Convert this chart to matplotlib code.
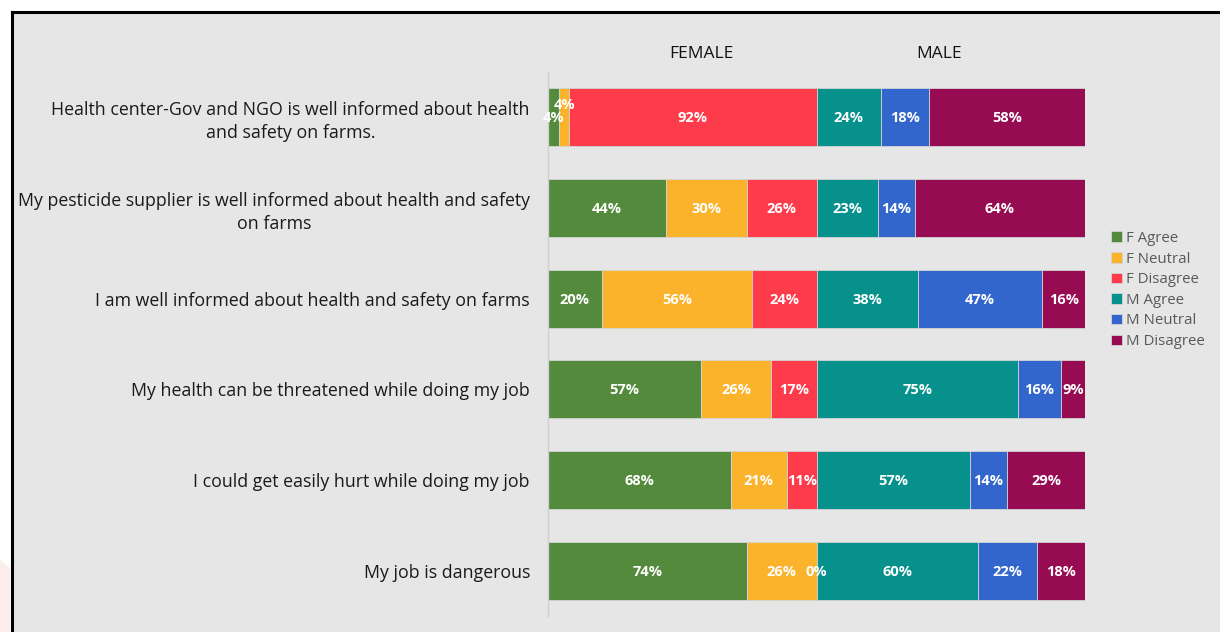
import matplotlib
matplotlib.use("Agg")
import matplotlib.pyplot as plt
from matplotlib.patches import Rectangle, Polygon
from matplotlib.lines import Line2D
import numpy as np

plt.rcParams['font.family'] = ['Open Sans', 'DejaVu Sans']

categories = [
    "Health center-Gov and NGO is well informed about health\nand safety on farms.",
    "My pesticide supplier is well informed about health and safety\non farms",
    "I am well informed about health and safety on farms",
    "My health can be threatened while doing my job",
    "I could get easily hurt while doing my job",
    "My job is dangerous",
]
f_agree = [4, 44, 20, 57, 68, 74]
f_neutral = [4, 30, 56, 26, 21, 26]
f_disagree = [92, 26, 24, 17, 11, 0]
m_agree = [24, 23, 38, 75, 57, 60]
m_neutral = [18, 14, 47, 16, 14, 22]
m_disagree = [58, 64, 16, 9, 29, 18]

series_names = ["F Agree", "F Neutral", "F Disagree", "M Agree", "M Neutral", "M Disagree"]
colors = ["#548A3C", "#FAB32B", "#FE3B4B", "#06918C", "#3366CC", "#960B51"]

W, H = 1220, 632
fig = plt.figure(figsize=(W / 100, H / 100), dpi=100, facecolor="white")

# background panel
fig.patches.append(Polygon([(0, 1 - 560 / H), (10 / W, 1 - 568 / H), (10 / W, 0), (0, 0)],
                           closed=True, transform=fig.transFigure, facecolor="#FDEEEE",
                           edgecolor="none", zorder=-5))
fig.patches.append(Rectangle((12 / W, 0), 1 - 12 / W, 1 - 12 / H, transform=fig.transFigure,
                             facecolor="#E6E6E6", edgecolor="none", zorder=-5))
fig.lines.append(Line2D([12 / W, 1], [1 - 12 / H, 1 - 12 / H], transform=fig.transFigure,
                        color="black", lw=2.2, zorder=-4))
fig.lines.append(Line2D([12 / W, 12 / W], [0, 1 - 12 / H], transform=fig.transFigure,
                        color="black", lw=2.2, zorder=-4))

ax = fig.add_axes([548 / W, 1 - 616 / H, (1085 - 548) / W, (616 - 72) / H])
ax.set_facecolor("none")

y = np.arange(len(categories))
bar_h = 0.64

groups = [
    (0, [f_agree, f_neutral, f_disagree], colors[:3], series_names[:3]),
    (100, [m_agree, m_neutral, m_disagree], colors[3:], series_names[3:]),
]
for base, series, cols, names in groups:
    arr = np.array(series, dtype=float)
    totals = arr.sum(axis=0)
    left = np.full(len(categories), float(base))
    for k, (vals, col, name) in enumerate(zip(arr, cols, names)):
        widths = vals / totals * 100
        ax.barh(y, widths, left=left, height=bar_h, color=col, edgecolor="#D4D4D4",
                linewidth=0.6, label=name)
        for i in range(len(categories)):
            cx = left[i] + widths[i] / 2
            dy = 0.01
            # overlapping small labels in first row: lift the second one
            if k == 1 and widths[i] < 6 and arr[0][i] < 6:
                dy = -0.14
            ax.text(cx, y[i] + dy, f"{int(vals[i])}%", ha="center", va="center",
                    color="white", fontsize=10.5, fontweight="bold")
        left = left + widths

ax.set_xlim(0, 200)
ax.set_ylim(len(categories) - 0.5, -0.5)
ax.set_yticks(y)
ax.set_yticklabels(categories, fontsize=12.8, color="#1a1a1a", linespacing=1.35)
for lbl in ax.get_yticklabels():
    lbl.set_multialignment("center")
ax.tick_params(axis="y", length=0, pad=13)
ax.set_xticks([])
for s in ["top", "right", "bottom"]:
    ax.spines[s].set_visible(False)
ax.spines["left"].set_color("#D0D0D0")
ax.spines["left"].set_linewidth(1.0)

ax.text(57, -0.5 - 18 / 90.7, "FEMALE", ha="center", va="center", fontsize=12.5, color="#111111")
ax.text(145.6, -0.5 - 18 / 90.7, "MALE", ha="center", va="center", fontsize=12.5, color="#111111")

leg = fig.legend(loc="upper left", bbox_to_anchor=(1111 / W, 1 - 231 / H), frameon=False,
                 fontsize=10.8, handlelength=0.7, handleheight=0.7, handletextpad=0.3,
                 labelspacing=0.375, borderaxespad=0, borderpad=0)
for t in leg.get_texts():
    t.set_color("#595959")

fig.savefig("out.png", dpi=100, facecolor="white")
